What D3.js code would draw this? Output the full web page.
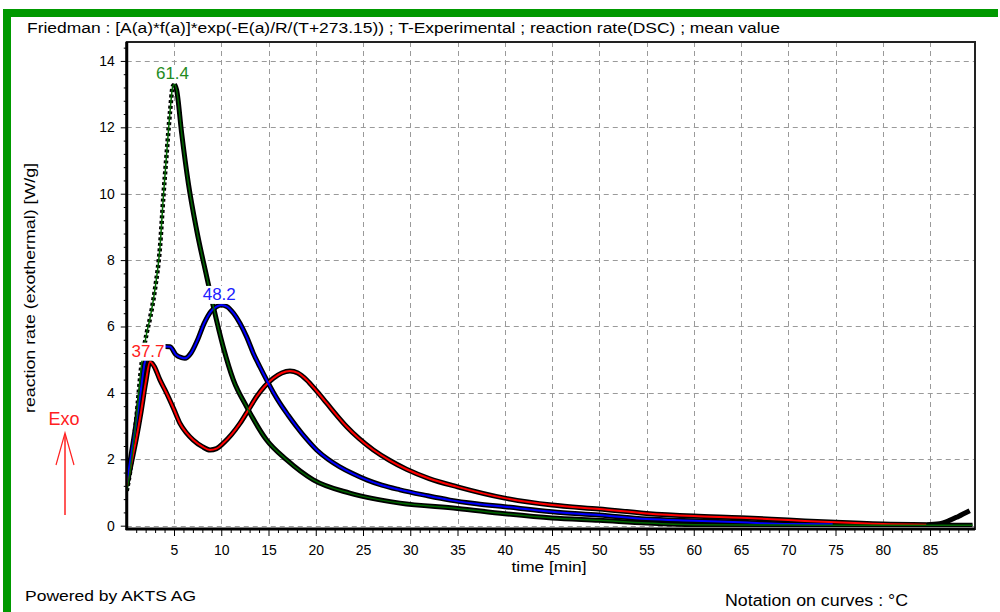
<!DOCTYPE html>
<html>
<head>
<meta charset="utf-8">
<style>
  body { margin: 0; background: #fff; }
  svg { display: block; font-family: "Liberation Sans", Arial, sans-serif; }
</style>
<script src="https://cdn.jsdelivr.net/npm/d3@7/dist/d3.min.js"></script>
</head>
<body>
<svg id="chart" width="1000" height="612"></svg>
<script>
// --- data (time in min, rate in W/g) ---
const timeGreen = [0, 0.34, 1.0, 1.58, 2.11, 2.5, 3.0, 3.52, 3.87, 4.22, 4.58, 4.86, 5.05, 5.28, 5.81, 6.52, 7.4, 8.46, 9.16, 10.2, 11.28, 12.69, 14.8, 16.93, 19.74, 23.6, 28.9, 35, 40, 45, 50, 55, 60, 65, 70, 75, 80, 85, 89.5];
const rateGreen = [1.05, 1.6, 3.2, 4.9, 5.8, 6.3, 7.15, 8.4, 9.9, 11.2, 12.47, 13.22, 13.3, 13.12, 11.82, 10.31, 8.9, 7.5, 6.6, 5.39, 4.39, 3.58, 2.58, 1.98, 1.38, 0.98, 0.68, 0.52, 0.36, 0.23, 0.16, 0.08, 0.03, 0.02, 0.02, 0.01, 0.01, 0.01, 0.01];

const timeBlue = [0, 0.5, 1.0, 1.5, 1.9, 2.5, 3.2, 4.0, 4.58, 5.2, 5.8, 6.16, 6.8, 7.5, 8.2, 8.9, 9.5, 10.0, 10.6, 11.3, 11.98, 12.7, 13.4, 14.1, 14.8, 15.5, 16.2, 17.1, 17.98, 19, 20.1, 21.3, 22.5, 23.9, 25.4, 27, 28.9, 31.5, 34.2, 37, 40, 45, 50, 55, 60, 65, 70, 74.7];
const rateBlue = [1.3, 2.2, 3.1, 4.1, 4.9, 5.25, 5.35, 5.4, 5.39, 5.15, 5.06, 5.04, 5.2, 5.6, 6.1, 6.45, 6.6, 6.65, 6.6, 6.4, 6.1, 5.68, 5.19, 4.78, 4.39, 4.02, 3.69, 3.32, 2.98, 2.62, 2.28, 2.0, 1.78, 1.57, 1.38, 1.22, 1.08, 0.92, 0.77, 0.66, 0.57, 0.42, 0.32, 0.2, 0.15, 0.1, 0.05, 0.04];

const timeRed = [0, 0.5, 1.0, 1.5, 2.0, 2.46, 2.9, 3.5, 4.22, 5.0, 5.63, 6.3, 7.04, 8.0, 8.81, 9.5, 10.2, 11.1, 11.98, 12.9, 13.75, 14.6, 15.51, 16.4, 17.27, 18.1, 19.04, 20.1, 21.16, 22.2, 23.28, 24.6, 26.1, 27.8, 29.6, 32, 35, 40, 45, 50, 55, 60, 65, 70, 75, 80, 84.6];
const rateRed = [1.2, 1.9, 2.6, 3.4, 4.3, 4.94, 4.8, 4.4, 3.99, 3.5, 3.08, 2.8, 2.58, 2.38, 2.28, 2.32, 2.48, 2.75, 3.08, 3.5, 3.89, 4.2, 4.44, 4.6, 4.66, 4.6, 4.39, 4.05, 3.69, 3.33, 2.98, 2.62, 2.28, 1.97, 1.7, 1.42, 1.17, 0.83, 0.62, 0.5, 0.37, 0.29, 0.24, 0.17, 0.1, 0.05, 0.03];

// end of the experimental (black) trace that goes past the red curve
const tailTime = [84.6, 86, 87, 88, 89.2];
const tailRate = [0.03, 0.06, 0.15, 0.28, 0.45];

const peakLabels = ["61.4", "48.2", "37.7"];
const xTicks = [5, 10, 15, 20, 25, 30, 35, 40, 45, 50, 55, 60, 65, 70, 75, 80, 85];
const yTicks = [0, 2, 4, 6, 8, 10, 12, 14];

const svg = d3.select("#chart");

// green window frame
svg.append("rect").attr("x", 3).attr("y", 9).attr("width", 995).attr("height", 8).attr("fill", "#009900");
svg.append("rect").attr("x", 3).attr("y", 9).attr("width", 8).attr("height", 603).attr("fill", "#009900");

const x = d3.scaleLinear([0, 89.76], [126.75, 975]);
const y = d3.scaleLinear([-0.1, 14.57], [529, 42]);

svg.append("text")
	.attr("x", 27).attr("y", 33)
	.attr("font-size", 14)
	.attr("textLength", 753).attr("lengthAdjust", "spacingAndGlyphs")
	.text("Friedman : [A(a)*f(a)]*exp(-E(a)/R/(T+273.15)) ; T-Experimental ; reaction rate(DSC) ; mean value");

// grid
const grid = svg.append("g").attr("stroke", "#9a9a9a").attr("stroke-dasharray", "5,4").attr("stroke-width", 1);
grid.selectAll(".gx").data(xTicks).join("line")
	.attr("x1", d => Math.round(x(d)) + 0.5).attr("x2", d => Math.round(x(d)) + 0.5)
	.attr("y1", y.range()[1]).attr("y2", y.range()[0]);
grid.selectAll(".gy").data(yTicks).join("line")
	.attr("y1", d => Math.round(y(d)) + 0.5).attr("y2", d => Math.round(y(d)) + 0.5)
	.attr("x1", x.range()[0]).attr("x2", x.range()[1]);

// axes with minor ticks
const xMinor = d3.range(1, 90).filter(v => v % 5 != 0);
const yMinor = d3.range(0, 14.6, 0.4).filter(v => Math.abs(v / 2 - Math.round(v / 2)) > 0.01);

const xAxis = svg.append("g").attr("transform", `translate(0,${y.range()[0]})`)
	.call(d3.axisBottom(x).tickValues(xTicks).tickSize(7).tickPadding(9).tickFormat(d3.format("d")));
svg.append("g").attr("transform", `translate(0,${y.range()[0]})`)
	.call(d3.axisBottom(x).tickValues(xMinor).tickSize(4).tickFormat(""))
	.call(g => g.select(".domain").remove());

const yAxis = svg.append("g").attr("transform", `translate(${x.range()[0]},0)`)
	.call(d3.axisLeft(y).tickValues(yTicks).tickSize(6).tickPadding(6).tickFormat(d3.format("d")));
svg.append("g").attr("transform", `translate(${x.range()[0]},0)`)
	.call(d3.axisLeft(y).tickValues(yMinor).tickSize(3).tickFormat(""))
	.call(g => g.select(".domain").remove());

svg.selectAll(".tick text").attr("font-size", 14).attr("fill", "#000").attr("font-family", "Liberation Sans, Arial, sans-serif");
svg.selectAll(".tick line").attr("stroke", "#000");
xAxis.select(".domain").remove();
yAxis.select(".domain").remove();

// plot frame
svg.append("rect")
	.attr("x", x.range()[0]).attr("y", y.range()[1])
	.attr("width", x.range()[1] - x.range()[0]).attr("height", y.range()[0] - y.range()[1])
	.attr("fill", "none").attr("stroke", "#222").attr("stroke-width", 2);
svg.append("line").attr("x1", x.range()[0]).attr("x2", x.range()[0]).attr("y1", y.range()[1]).attr("y2", y.range()[0] + 1)
	.attr("stroke", "#000").attr("stroke-width", 3);
svg.append("line").attr("x1", x.range()[0] - 1).attr("x2", x.range()[1]).attr("y1", y.range()[0]).attr("y2", y.range()[0])
	.attr("stroke", "#000").attr("stroke-width", 3);

// curves
svg.append("defs").append("clipPath").attr("id", "clip")
	.append("rect").attr("x", x.range()[0] + 1).attr("y", y.range()[1] + 1)
	.attr("width", x.range()[1] - x.range()[0] - 2).attr("height", y.range()[0] - y.range()[1] - 3);

const line = d3.line().x(d => x(d[0])).y(d => y(d[1])).curve(d3.curveMonotoneX);
const zip = (t, v) => t.map((d, i) => [d, v[i]]);

const series = [
	{t: timeRed, v: rateRed, color: "#ff0000", label: peakLabels[2], lc: "#ff2020"},
	{t: timeBlue, v: rateBlue, color: "#0000ff", label: peakLabels[1], lc: "#2020ff"},
	{t: timeGreen, v: rateGreen, color: "#006600", label: peakLabels[0], lc: "#228b22"}
];

const plot = svg.append("g").attr("clip-path", "url(#clip)").attr("fill", "none").attr("stroke-linejoin", "round");

series.forEach(s => {
	let pts = zip(s.t, s.v);
	if (s.label == "61.4") {
		let pk = d3.maxIndex(s.v);
		plot.append("path").attr("d", line(pts.slice(0, pk + 1)))
			.attr("stroke", "#000").attr("stroke-width", 4.5).attr("stroke-dasharray", "3,2.5");
		plot.append("path").attr("d", line(pts.slice(pk)))
			.attr("stroke", "#000").attr("stroke-width", 5);
	} else {
		plot.append("path").attr("d", line(pts)).attr("stroke", "#000").attr("stroke-width", 5);
	}
});
plot.append("path").attr("d", line(zip(tailTime, tailRate))).attr("stroke", "#000").attr("stroke-width", 5);

series.forEach(s => {
	plot.append("path").attr("d", line(zip(s.t, s.v)))
		.attr("stroke", s.color).attr("stroke-width", s.label == "61.4" ? 1.5 : 2);
});

// peak temperature labels (white box covers the curves)
series.forEach(s => {
	let pk = d3.maxIndex(s.v);
	let cx = x(s.t[pk]) - 2, by = y(s.v[pk]) - 5;
	let g = svg.append("g");
	let txt = g.append("text").attr("x", cx).attr("y", by)
		.attr("text-anchor", "middle").attr("font-size", 17).attr("fill", s.lc).text(s.label);
	let bb = txt.node().getBBox();
	g.insert("rect", "text").attr("x", bb.x - 1).attr("y", bb.y + 1)
		.attr("width", bb.width + 2).attr("height", bb.height - 1).attr("fill", "#fff");
});

// axis titles and notes
svg.append("text")
	.attr("transform", "translate(35,288) rotate(-90)")
	.attr("text-anchor", "middle").attr("font-size", 14)
	.attr("textLength", 250).attr("lengthAdjust", "spacingAndGlyphs")
	.text("reaction rate (exothermal) [W/g]");

svg.append("text").attr("x", 549).attr("y", 572).attr("text-anchor", "middle").attr("font-size", 15)
	.attr("textLength", 75).attr("lengthAdjust", "spacingAndGlyphs")
	.text("time [min]");

svg.append("text").attr("x", 25).attr("y", 601).attr("font-size", 15)
	.attr("textLength", 171).attr("lengthAdjust", "spacingAndGlyphs")
	.text("Powered by AKTS AG");

svg.append("text").attr("x", 725).attr("y", 606).attr("font-size", 16)
	.attr("textLength", 183).attr("lengthAdjust", "spacingAndGlyphs")
	.text("Notation on curves : °C");

// Exo arrow
svg.append("text").attr("x", 64).attr("y", 425).attr("text-anchor", "middle")
	.attr("font-size", 18).attr("fill", "#ff2020").text("Exo");
svg.append("line").attr("x1", 65).attr("x2", 65).attr("y1", 515).attr("y2", 434)
	.attr("stroke", "#ff2020").attr("stroke-width", 1.5);
svg.append("polyline").attr("points", "56,465 65,433 74,465")
	.attr("fill", "none").attr("stroke", "#ff2020").attr("stroke-width", 1.2);
</script>
</body>
</html>
